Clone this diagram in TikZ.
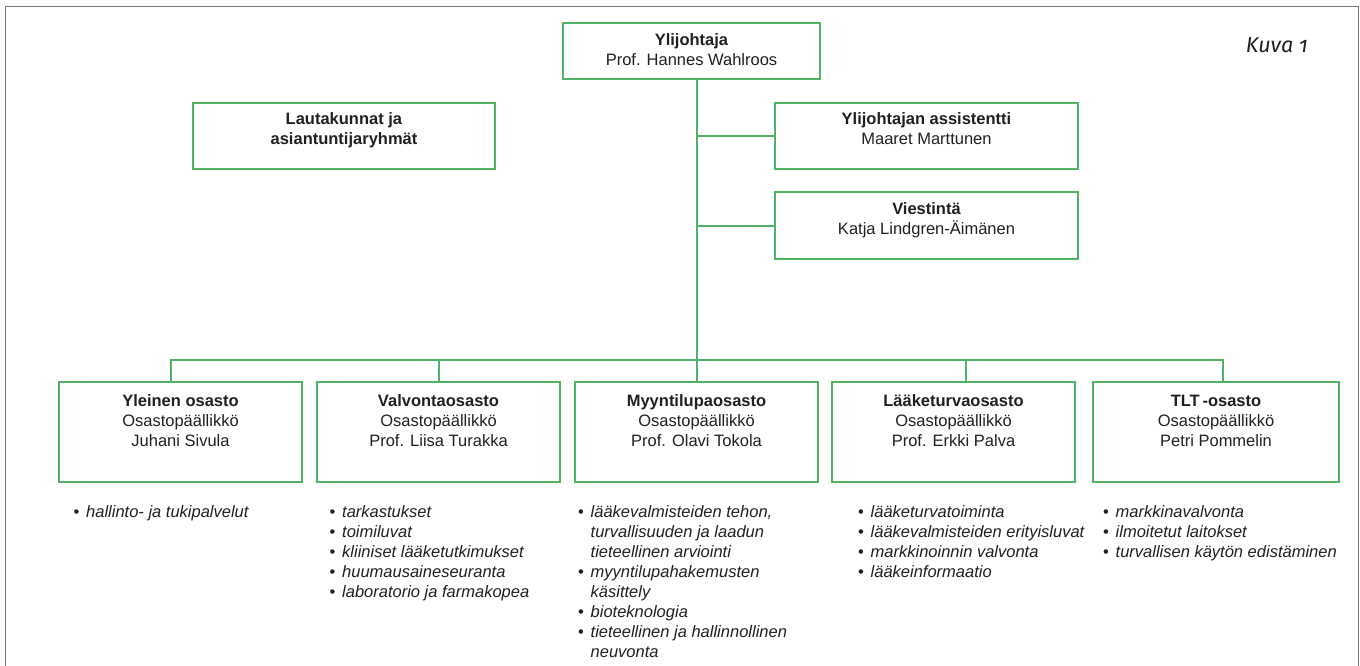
\documentclass[tikz,border=0pt]{standalone}
\usepackage{fontspec}
\setmainfont{Liberation Sans}
\newfontfamily\kuvafont[Numbers=OldStyle]{Fira Sans}
\usetikzlibrary{positioning}
\definecolor{orggreen}{HTML}{4FB264}
\definecolor{inkblack}{HTML}{231F20}
\definecolor{framegray}{HTML}{7A7A7A}

\newcommand{\boxfont}{\fontsize{16.5}{20}\selectfont}
\newcommand{\boxtext}[3]{\parbox[c][#1][t]{#2}{\centering\strut#3}}
\newcommand{\duty}[1]{\makebox[12.5pt][l]{•}\textit{#1}}
\newcommand{\dutycont}[1]{\hspace*{12.5pt}\textit{#1}}
\newcommand{\dutylist}[1]{\parbox[t]{300pt}{\raggedright\strut#1}}

\begin{document}
\begin{tikzpicture}[x=1pt, y=-1pt,
  wire/.style={orggreen, line width=2pt},
]

% =============================================
% Box styles
% =============================================
\tikzset{
  orgbox/.style 2 args={
    draw=orggreen, line width=1.6pt, inner sep=0pt,
    text=inkblack, font=\boxfont,
    minimum width=#1, minimum height=#2,
  },
  duties/.style={anchor=base west, inner sep=0pt, text=inkblack, font=\boxfont},
}

% =============================================
% Frame (open at the bottom)
% =============================================
\useasboundingbox (0,0) rectangle (1360,666);
\draw[framegray, line width=1.3pt] (5.5,666) -- (5.5,6.5) -- (1358.5,6.5) -- (1358.5,666);

\node[font=\kuvafont\itshape\fontsize{21.5}{24}\selectfont, text=inkblack, anchor=base east, inner sep=0pt]
  (kuva) at (1308,52.5) {Kuva 1};

% =============================================
% Management level
% =============================================
\node[orgbox={257pt}{56pt}] (johtaja) at (691.5,51)
  {\boxtext{38pt}{245pt}{\textbf{Ylijohtaja}\\Prof. Hannes Wahlroos}};

\node[orgbox={302pt}{66pt}] (lautakunnat) at (344,136)
  {\boxtext{50pt}{290pt}{\textbf{Lautakunnat ja}\\\textbf{asiantuntijaryhmät}}};

\node[orgbox={303pt}{66pt}] (assistentti) at (926.5,136)
  {\boxtext{50pt}{290pt}{\textbf{Ylijohtajan assistentti}\\Maaret Marttunen}};

\node[orgbox={303pt}{67pt}] (viestinta) at (926.5,225.5)
  {\boxtext{50pt}{290pt}{\textbf{Viestintä}\\Katja Lindgren-Äimänen}};

% =============================================
% Departments
% =============================================
\node[orgbox={243pt}{100pt}] (yleinen) at (180.5,432)
  {\boxtext{80pt}{235pt}{\textbf{Yleinen osasto}\\Osastopäällikkö\\Juhani Sivula}};

\node[orgbox={243pt}{100pt}] (valvonta) at (438.5,432)
  {\boxtext{80pt}{235pt}{\textbf{Valvontaosasto}\\Osastopäällikkö\\Prof. Liisa Turakka}};

\node[orgbox={243pt}{100pt}] (myynti) at (696.5,432)
  {\boxtext{80pt}{235pt}{\textbf{Myyntilupaosasto}\\Osastopäällikkö\\Prof. Olavi Tokola}};

\node[orgbox={243pt}{100pt}] (laake) at (953.5,432)
  {\boxtext{80pt}{235pt}{\textbf{Lääketurvaosasto}\\Osastopäällikkö\\Prof. Erkki Palva}};

\node[orgbox={246pt}{100pt}] (tlt) at (1216,432)
  {\boxtext{80pt}{235pt}{\textbf{TLT\thinspace-osasto}\\Osastopäällikkö\\Petri Pommelin}};

% =============================================
% Connectors
% =============================================
\coordinate (bus) at (0,360);

\draw[wire] (myynti.north |- johtaja.south) -- (myynti.north);
\draw[wire] (myynti.north |- assistentti.west) -- (assistentti.west);
\draw[wire] (myynti.north |- viestinta.west) -- (viestinta.west);

\draw[wire] ([xshift=-9.5pt]yleinen.north) -- ([xshift=-9.5pt]yleinen.north |- bus)
  -- ([xshift=7pt]tlt.north |- bus) -- ([xshift=7pt]tlt.north);
\draw[wire] (valvonta.north |- bus) -- (valvonta.north);
\draw[wire] ([xshift=12.5pt]laake.north |- bus) -- ([xshift=12.5pt]laake.north);

% =============================================
% Tasks under each department
% =============================================
\node[duties] (yleinen-d) at (73.5,517)
  {\dutylist{\duty{hallinto- ja tukipalvelut}}};

\node[duties] (valvonta-d) at (329.5,517)
  {\dutylist{\duty{tarkastukset}\\
   \duty{toimiluvat}\\
   \duty{kliiniset lääketutkimukset}\\
   \duty{huumausaineseuranta}\\
   \duty{laboratorio ja farmakopea}}};

\node[duties] (myynti-d) at (578,517)
  {\dutylist{\duty{lääkevalmisteiden tehon,}\\
   \dutycont{turvallisuuden ja laadun}\\
   \dutycont{tieteellinen arviointi}\\
   \duty{myyntilupahakemusten}\\
   \dutycont{käsittely}\\
   \duty{bioteknologia}\\
   \duty{tieteellinen ja hallinnollinen}\\
   \dutycont{neuvonta}}};

\node[duties] (laake-d) at (858,517)
  {\dutylist{\duty{lääketurvatoiminta}\\
   \duty{lääkevalmisteiden erityisluvat}\\
   \duty{markkinoinnin valvonta}\\
   \duty{lääkeinformaatio}}};

\node[duties] (tlt-d) at (1103,517)
  {\dutylist{\duty{markkinavalvonta}\\
   \duty{ilmoitetut laitokset}\\
   \duty{turvallisen käytön edistäminen}}};

\end{tikzpicture}
\end{document}
